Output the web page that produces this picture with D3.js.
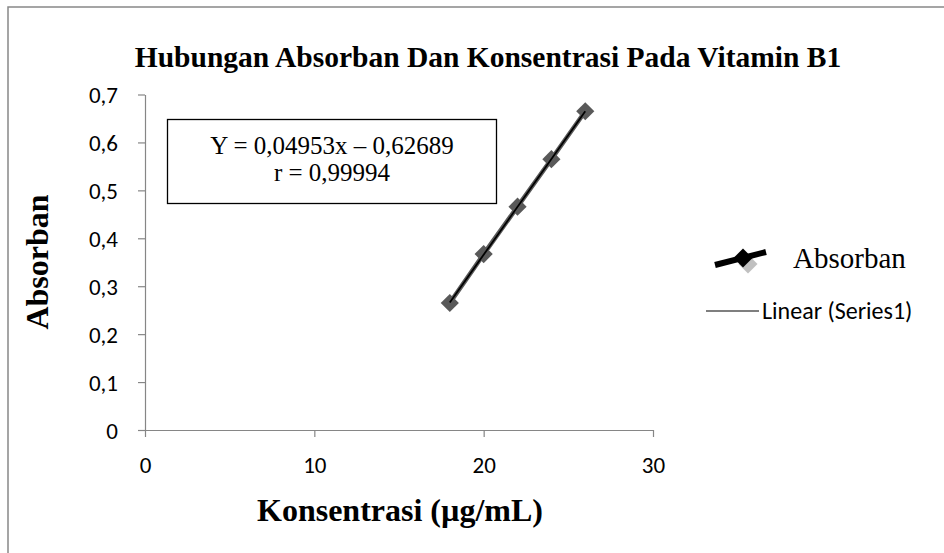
<!DOCTYPE html>
<html>
<head>
<meta charset="utf-8">
<script src="https://cdn.jsdelivr.net/npm/d3@7"></script>
<style>
  html, body { margin: 0; padding: 0; background: #fff; }
  svg { display: block; }
</style>
</head>
<body>
<svg id="chart" width="944" height="553"></svg>
<script>
const concentrations = [18, 20, 22, 24, 26];
const absorbances = [0.265, 0.367, 0.466, 0.565, 0.665];
const xTicks = [0, 10, 20, 30];
const yTicks = [0, 0.1, 0.2, 0.3, 0.4, 0.5, 0.6, 0.7];
const titleText = "Hubungan Absorban Dan Konsentrasi Pada Vitamin B1";
const xTitle = "Konsentrasi (µg/mL)";
const yTitle = "Absorban";
const equationLines = ["Y = 0,04953x – 0,62689", "r = 0,99994"];
const legendLabels = ["Absorban", "Linear (Series1)"];

const svg = d3.select("#chart");
const serif = "'Liberation Serif', 'Times New Roman', serif";
const sans = "Carlito, Lato, 'Open Sans', sans-serif";
const axisColor = "#868686";

// outer frame
svg.append("rect").attr("x", 8).attr("y", 7).attr("width", 960).attr("height", 600)
  .attr("fill", "none").attr("stroke", "#888").attr("stroke-width", 1.5);

const x = d3.scaleLinear().domain([0, 30]).range([145, 653]);
const y = d3.scaleLinear().domain([0, 0.7]).range([430, 94.5]);

const fmt = d => d === 0 ? "0" : d3.format(".1f")(d).replace(".", ",");

// y axis
const yAxis = svg.append("g").attr("transform", `translate(${x(0)},0)`)
  .call(d3.axisLeft(y).tickValues(yTicks).tickSize(7).tickSizeOuter(0).tickFormat(fmt));
yAxis.select(".domain").attr("stroke", axisColor).attr("stroke-width", 1.2);
yAxis.selectAll(".tick line").attr("stroke", axisColor).attr("stroke-width", 1.2);
yAxis.selectAll(".tick text").attr("font-family", sans).attr("font-size", 23)
  .attr("fill", "#000").attr("x", -27).attr("dy", "0.35em");

// x axis
const xAxis = svg.append("g").attr("transform", `translate(0,${y(0)})`)
  .call(d3.axisBottom(x).tickValues(xTicks).tickSize(7).tickSizeOuter(0).tickFormat(d3.format("d")));
xAxis.select(".domain").attr("stroke", axisColor).attr("stroke-width", 1.2);
xAxis.selectAll(".tick line").attr("stroke", axisColor).attr("stroke-width", 1.2);
xAxis.selectAll(".tick text").attr("font-family", sans).attr("font-size", 23)
  .attr("fill", "#000").attr("y", 35).attr("dy", "0.35em");

// title
svg.append("text").attr("x", 488).attr("y", 67).attr("text-anchor", "middle")
  .attr("font-family", serif).attr("font-weight", "bold").attr("font-size", 29.5)
  .text(titleText);

// axis titles
svg.append("text").attr("x", 400).attr("y", 521).attr("text-anchor", "middle")
  .attr("font-family", serif).attr("font-weight", "bold").attr("font-size", 32)
  .text(xTitle);
svg.append("text").attr("transform", "translate(48,262) rotate(-90)").attr("text-anchor", "middle")
  .attr("font-family", serif).attr("font-weight", "bold").attr("font-size", 32)
  .text(yTitle);

// series line (gray)
const pts = concentrations.map((c, i) => [c, absorbances[i]]);
svg.append("path").datum(pts)
  .attr("d", d3.line().x(d => x(d[0])).y(d => y(d[1])))
  .attr("fill", "none").attr("stroke", "#595959").attr("stroke-width", 4.5);

// markers
svg.selectAll(".pt").data(pts).enter().append("path")
  .attr("class", "pt")
  .attr("transform", d => `translate(${x(d[0])},${y(d[1])}) rotate(45)`)
  .attr("d", d3.symbol().type(d3.symbolSquare).size(165)())
  .attr("fill", "#595959");

// trendline (least squares)
const mx = d3.mean(concentrations), my = d3.mean(absorbances);
const slope = d3.sum(pts, d => (d[0] - mx) * (d[1] - my)) / d3.sum(pts, d => (d[0] - mx) ** 2);
const icpt = my - slope * mx;
const xr = d3.extent(concentrations);
svg.append("line")
  .attr("x1", x(xr[0])).attr("y1", y(slope * xr[0] + icpt))
  .attr("x2", x(xr[1])).attr("y2", y(slope * xr[1] + icpt))
  .attr("stroke", "#000").attr("stroke-width", 1.8);

// equation box
svg.append("rect").attr("x", 167.5).attr("y", 119.5).attr("width", 329).attr("height", 84)
  .attr("fill", "#fff").attr("stroke", "#000").attr("stroke-width", 1.3);
svg.append("text").attr("x", 332).attr("y", 154).attr("text-anchor", "middle")
  .attr("font-family", serif).attr("font-size", 25).text(equationLines[0]);
svg.append("text").attr("x", 332).attr("y", 181).attr("text-anchor", "middle")
  .attr("font-family", serif).attr("font-size", 25).text(equationLines[1]);

// legend
const lg = svg.append("g");
lg.append("path").attr("transform", "translate(748,264) rotate(45)")
  .attr("d", d3.symbol().type(d3.symbolSquare).size(180)()).attr("fill", "#c0c0c0");
lg.append("line").attr("x1", 715).attr("y1", 265).attr("x2", 766).attr("y2", 252)
  .attr("stroke", "#000").attr("stroke-width", 6);
lg.append("path").attr("transform", "translate(743,258) rotate(45)")
  .attr("d", d3.symbol().type(d3.symbolSquare).size(180)()).attr("fill", "#000");
lg.append("text").attr("x", 793).attr("y", 268)
  .attr("font-family", serif).attr("font-size", 29).text(legendLabels[0]);
lg.append("line").attr("x1", 706).attr("y1", 311).attr("x2", 759).attr("y2", 311)
  .attr("stroke", "#000").attr("stroke-width", 1.2);
lg.append("text").attr("x", 762).attr("y", 319)
  .attr("font-family", sans).attr("font-size", 24).text(legendLabels[1]);
</script>
</body>
</html>
